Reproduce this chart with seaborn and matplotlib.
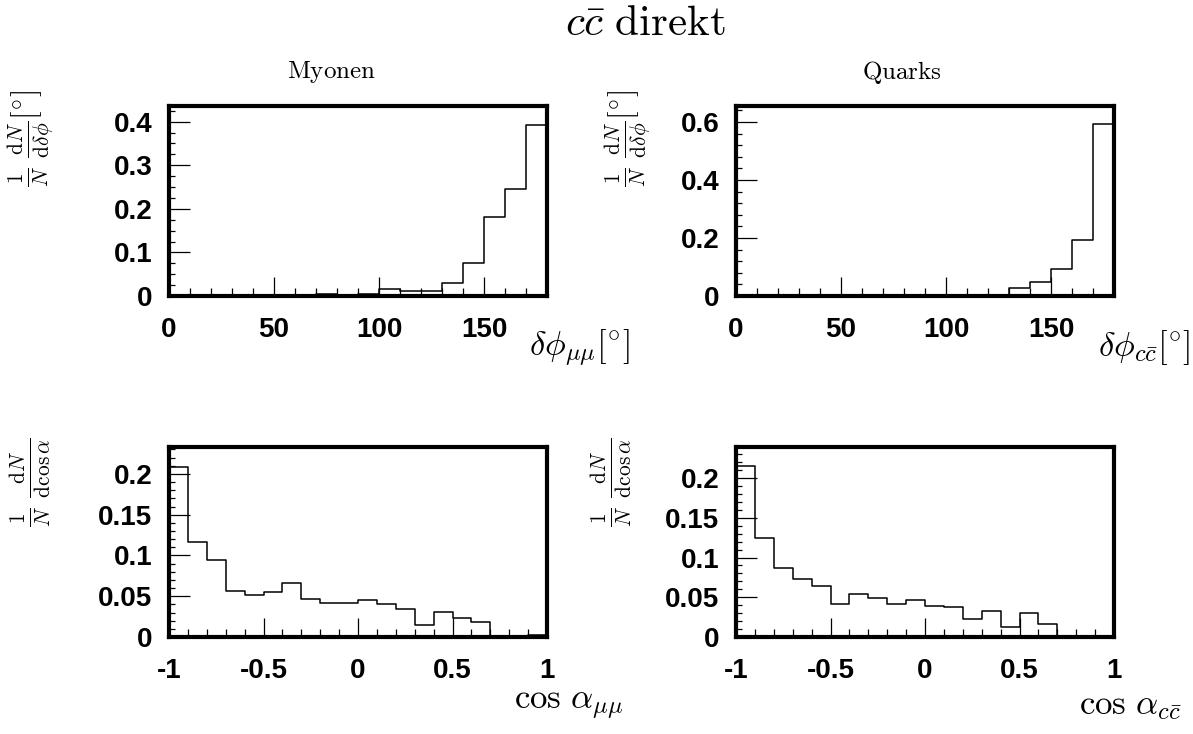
import numpy as np
import pandas as pd
import matplotlib
matplotlib.use("Agg")
import matplotlib.pyplot as plt
from matplotlib.ticker import MultipleLocator, FuncFormatter
import seaborn as sns

# ---- data ----
phi_edges = list(range(0, 181, 10))
cos_edges = [round(-1.0 + 0.1 * k, 2) for k in range(21)]

mu_phi = [0, 0, 0, 0, 0, 0, 0, 0.005, 0, 0.005, 0.016, 0.012, 0.012, 0.030, 0.076, 0.182, 0.245, 0.393]
q_phi = [0, 0, 0, 0, 0, 0, 0, 0, 0, 0.002, 0.005, 0.002, 0.002, 0.026, 0.048, 0.094, 0.193, 0.594]
mu_cos = [0.209, 0.116, 0.095, 0.057, 0.052, 0.055, 0.066, 0.047, 0.042, 0.042,
          0.045, 0.041, 0.034, 0.015, 0.031, 0.023, 0.019, 0.0, 0.0, 0.003]
q_cos = [0.215, 0.124, 0.087, 0.0735, 0.064, 0.042, 0.054, 0.049, 0.042, 0.046,
         0.039, 0.0376, 0.023, 0.0325, 0.0127, 0.030, 0.016, 0.0, 0.0, 0.0]

ylim_tops = [0.436, 0.655, 0.233, 0.239]

title = r'$c\bar{c}\ \mathrm{direkt}$'
col_titles = [r'$\mathrm{Myonen}$', r'$\mathrm{Quarks}$']
xlabels = [r'$\delta\phi_{\mu\mu}[^{\circ}]$', r'$\delta\phi_{c\bar{c}}[^{\circ}]$',
           r'$\cos\,\alpha_{\mu\mu}$', r'$\cos\,\alpha_{c\bar{c}}$']
ylab_phi = r'$\frac{1}{N}\ \frac{\mathrm{d}N}{\mathrm{d}\delta\phi}[^{\circ}]$'
ylab_cos = r'$\frac{1}{N}\ \frac{\mathrm{d}N}{\mathrm{d}\cos\alpha}$'

# ---- style ----
sns.set_theme(style="white")
plt.rcParams['font.family'] = ['Liberation Sans', 'DejaVu Sans']
plt.rcParams['mathtext.fontset'] = 'cm'
plt.rcParams['axes.unicode_minus'] = False
plt.rcParams['text.color'] = 'black'
plt.rcParams['axes.labelcolor'] = 'black'

W, H = 1193, 734
fig = plt.figure(figsize=(W / 100, H / 100), dpi=100)


def add_ax(x0, y0, x1, y1):
    return fig.add_axes([x0 / W, 1 - y1 / H, (x1 - x0) / W, (y1 - y0) / H])


boxes = [(169, 106, 547, 296), (736, 106, 1114, 296),
         (169, 447, 547, 637), (736, 447, 1114, 637)]
datasets = [(phi_edges, mu_phi), (phi_edges, q_phi), (cos_edges, mu_cos), (cos_edges, q_cos)]
# pixel anchors of the axis labels: (x right edge, y center)
xlab_pos = [(630, 348), (1190, 348), (623, 706), (1182, 706)]
# y label: (x center, y top)
ylab_pos = [(31, 90), (628, 90), (31, 438), (612, 438)]
fmt = FuncFormatter(lambda v, p: ('%g' % round(v, 4)))

for i, (box, (edges, vals)) in enumerate(zip(boxes, datasets)):
    ax = add_ax(*box)
    e = np.asarray(edges, dtype=float)
    centers = (e[:-1] + e[1:]) / 2
    df = pd.DataFrame({'x': centers, 'w': vals})
    sns.histplot(data=df, x='x', weights='w', bins=list(edges), element='step', fill=False,
                 color='black', linewidth=1.1, ax=ax)
    ax.set_xlim(edges[0], edges[-1])
    ax.set_ylim(0, ylim_tops[i])
    for s in ax.spines.values():
        s.set_linewidth(3)
        s.set_color('black')
        s.set_visible(True)
    if i < 2:
        ax.xaxis.set_major_locator(MultipleLocator(50))
        ax.xaxis.set_minor_locator(MultipleLocator(10))
    else:
        ax.xaxis.set_major_locator(MultipleLocator(0.5))
        ax.xaxis.set_minor_locator(MultipleLocator(0.1))
    if i == 0:
        ax.yaxis.set_major_locator(MultipleLocator(0.1))
        ax.yaxis.set_minor_locator(MultipleLocator(0.025))
    elif i == 1:
        ax.yaxis.set_major_locator(MultipleLocator(0.2))
        ax.yaxis.set_minor_locator(MultipleLocator(0.04))
    else:
        ax.yaxis.set_major_locator(MultipleLocator(0.05))
        ax.yaxis.set_minor_locator(MultipleLocator(0.01))
    ax.xaxis.set_major_formatter(fmt)
    ax.yaxis.set_major_formatter(fmt)
    ax.tick_params(axis='both', which='both', direction='in', color='black', width=0.9,
                   labelcolor='black', bottom=True, left=True, top=False, right=False)
    ax.tick_params(axis='x', which='major', length=14, pad=15, labelsize=20)
    ax.tick_params(axis='x', which='minor', length=6)
    ax.tick_params(axis='y', which='major', length=15, pad=12, labelsize=20)
    ax.tick_params(axis='y', which='minor', length=4)
    for lab in ax.get_xticklabels() + ax.get_yticklabels():
        lab.set_fontweight('bold')
    ax.grid(False)

    x0, y0, x1, y1 = box
    bw, bh = x1 - x0, y1 - y0
    # x label
    ax.set_xlabel(xlabels[i], fontsize=25, ha='right', va='center')
    px, py = xlab_pos[i]
    ax.xaxis.set_label_coords((px - x0) / bw, (y1 - py) / bh)

    # y label
    ax.set_ylabel(ylab_phi if i < 2 else ylab_cos, fontsize=22)
    ax.yaxis.label.set_ha('right')
    ax.yaxis.label.set_va('center')
    qx, qy = ylab_pos[i]
    ax.yaxis.set_label_coords((qx - x0) / bw, (y1 - qy) / bh)

fig.text(332 / W, 1 - 72 / H, col_titles[0], fontsize=18, ha='center', va='center')
fig.text(902 / W, 1 - 72 / H, col_titles[1], fontsize=18, ha='center', va='center')
fig.text(645 / W, 1 - 24 / H, title, fontsize=31, ha='center', va='center')

fig.savefig('out.png', dpi=100, facecolor='white')
